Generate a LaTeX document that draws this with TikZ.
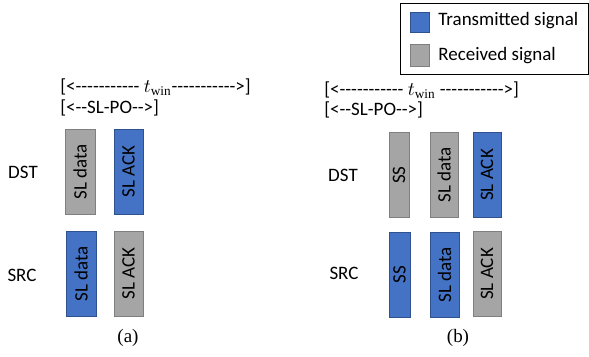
\documentclass[tikz,border=0pt]{standalone}
\usepackage{xcolor}
\usepackage{fontspec}
\setmainfont{Liberation Serif}
\newfontfamily\calibri{Carlito}[Ligatures=TeXOff]

\definecolor{txblue}{HTML}{4472C4}
\definecolor{txedge}{HTML}{2F528F}
\definecolor{rxgray}{HTML}{A5A5A5}
\definecolor{rxedge}{HTML}{7F7F7F}

\tikzset{
    sigtx/.style={draw=txedge, fill=txblue, rotate=90, inner sep=0pt, minimum width=1.7cm, font=\calibri\fontsize{10.8}{12}\selectfont},
    sigrx/.style={draw=rxedge, fill=rxgray, rotate=90, inner sep=0pt, minimum width=1.7cm, font=\calibri\fontsize{10.8}{12}\selectfont},
    lbl/.style={inner sep=0pt, font=\calibri\fontsize{10.8}{12}\selectfont},
    subcap/.style={inner sep=0pt, font=\fontsize{10.8}{12}\selectfont}
}

\begin{document}
\begin{tikzpicture}[x=0.02cm, y=-0.02cm]
    \useasboundingbox (0,0) rectangle (589,356);

    % legend
    \draw[thin] (400,3) rectangle (588,74);
    \node[draw=txedge, fill=txblue, minimum width=0.38cm, minimum height=0.4cm, inner sep=0pt] (keytx) at (419.5,22) {};
    \node[draw=rxedge, fill=rxgray, minimum width=0.38cm, minimum height=0.44cm, inner sep=0pt] (keyrx) at (419.5,55) {};
    \node[lbl, anchor=west] (keytxtext) at (438,21) {Transmitted signal};
    \node[lbl, anchor=west] (keyrxtext) at (438,56) {Received signal};

    % (a) without sidelink synchronisation
    \node[lbl, anchor=west] (atwin) at (60,87) {[<----------- $t_{\mathrm{win}}$----------->]};
    \node[lbl, anchor=west] (aslpo) at (60,108) {[<--SL-PO-->]};
    \node[lbl] (adst) at (23,172) {DST};
    \node[lbl] (asrc) at (22,275) {SRC};
    \node[sigrx, minimum height=0.6cm] (adstdata) at (80,171.5) {SL data};
    \node[sigtx, minimum height=0.58cm] (adstack) at (128.5,171.5) {SL ACK};
    \node[sigtx, minimum height=0.6cm] (asrcdata) at (81,273.5) {SL data};
    \node[sigrx, minimum height=0.58cm] (asrcack) at (128.5,273.5) {SL ACK};
    \node[subcap] (capa) at (128,338) {(a)};

    % (b) with sidelink synchronisation signal
    \node[lbl, anchor=west] (btwin) at (324,90) {[<----------- $t_{\mathrm{win}}$ ----------->]};
    \node[lbl, anchor=west] (bslpo) at (324,110) {[<--SL-PO-->]};
    \node[lbl] (bdst) at (343,175) {DST};
    \node[lbl] (bsrc) at (344,273) {SRC};
    \node[sigrx, minimum height=0.4cm] (bdstss) at (399,175) {SS};
    \node[sigrx, minimum height=0.56cm] (bdstdata) at (444,175) {SL data};
    \node[sigtx, minimum height=0.56cm] (bdstack) at (487,175) {SL ACK};
    \node[sigtx, minimum height=0.42cm] (bsrcss) at (399.5,274.5) {SS};
    \node[sigtx, minimum height=0.58cm] (bsrcdata) at (444.5,274.5) {SL data};
    \node[sigrx, minimum height=0.56cm] (bsrcack) at (487,274) {SL ACK};
    \node[subcap] (capb) at (458,338) {(b)};
\end{tikzpicture}
\end{document}
